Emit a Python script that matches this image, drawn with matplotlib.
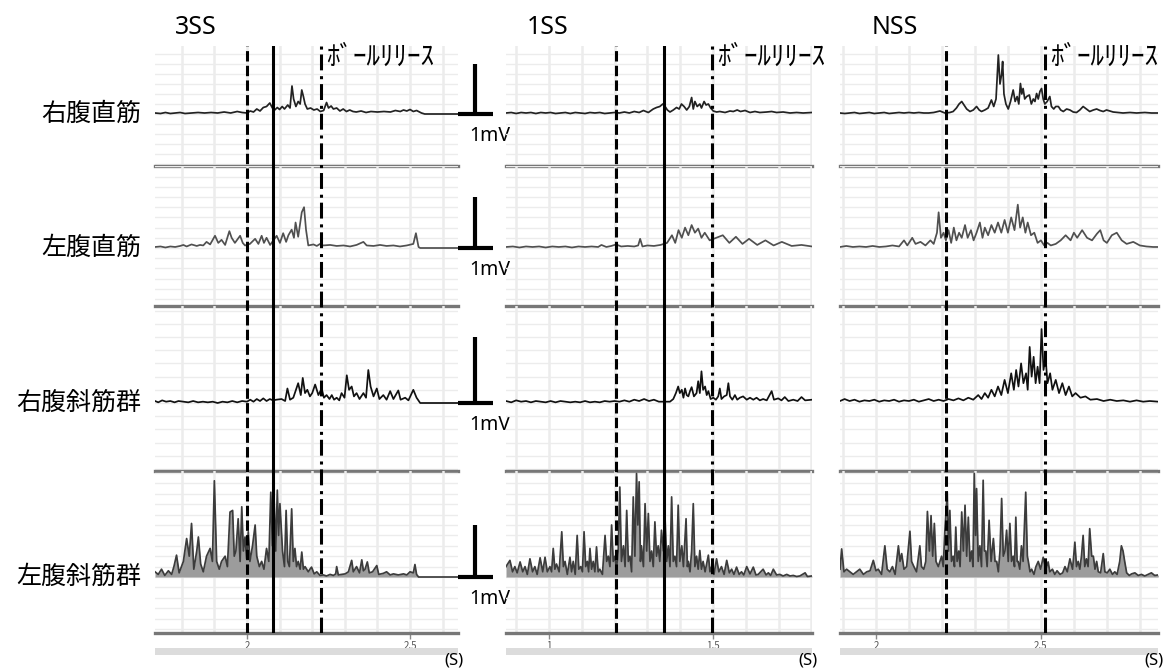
import numpy as np
import matplotlib
matplotlib.use('Agg')
import matplotlib.pyplot as plt
from matplotlib.ticker import MultipleLocator, FuncFormatter
from matplotlib.transforms import blended_transform_factory
from matplotlib.patches import Rectangle

plt.rcParams['font.family'] = ['Noto Sans CJK JP', 'DejaVu Sans']

W, H = 1166, 671

conditions = ['3SS', '1SS', 'NSS']
muscles = ['右腹直筋', '左腹直筋', '右腹斜筋群', '左腹斜筋群']
release_label = 'ﾎﾞｰﾙﾘﾘｰｽ'
scale_label = '1mV'

# visible time window of each condition (s)
xlims = [(1.718, 2.647), (0.869, 1.802), (1.891, 2.855)]
# event markers (s): dashed onset, solid line, dash-dot ball release
onset_t = [2.000, 1.204, 2.212]
solid_t = [2.080, 1.351, None]
release_t = [2.227, 1.497, 2.512]

# ---- rectified EMG traces, (time s, amplitude mV) ----
ss3_rra = [(1.718, 0.02), (1.735, 0.01), (1.75, 0.03), (1.765, 0.01), (1.78, 0.02), (1.795, 0.03),
           (1.81, 0.01), (1.83, 0.02), (1.85, 0.03), (1.87, 0.02), (1.89, 0.03), (1.91, 0.02),
           (1.93, 0.04), (1.95, 0.02), (1.97, 0.05), (1.985, 0.03), (2.0, 0.02), (2.01, 0.06),
           (2.02, 0.04), (2.03, 0.1), (2.04, 0.06), (2.05, 0.13), (2.06, 0.15), (2.07, 0.22),
           (2.078, 0.12), (2.085, 0.08), (2.093, 0.13), (2.10, 0.09), (2.108, 0.15), (2.115, 0.1),
           (2.125, 0.18), (2.132, 0.12), (2.138, 0.56), (2.143, 0.3), (2.15, 0.15), (2.157, 0.25),
           (2.163, 0.2), (2.168, 0.48), (2.173, 0.35), (2.178, 0.2), (2.185, 0.1), (2.195, 0.12),
           (2.205, 0.08), (2.215, 0.1), (2.225, 0.05), (2.235, 0.07), (2.244, 0.23), (2.25, 0.12),
           (2.258, 0.16), (2.265, 0.1), (2.275, 0.12), (2.285, 0.06), (2.295, 0.1), (2.305, 0.05),
           (2.315, 0.08), (2.325, 0.05), (2.335, 0.04), (2.35, 0.06), (2.365, 0.03), (2.38, 0.05),
           (2.40, 0.04), (2.42, 0.05), (2.44, 0.04), (2.455, 0.07), (2.47, 0.05), (2.48, 0.08),
           (2.49, 0.06), (2.50, 0.09), (2.51, 0.05), (2.52, 0.07), (2.535, 0.02), (2.545, 0.0),
           (2.648, 0.0)]
ss3_lra = [(1.718, 0.02), (1.735, 0.03), (1.75, 0.01), (1.765, 0.03), (1.78, 0.02), (1.795, 0.04),
           (1.805, 0.06), (1.815, 0.03), (1.83, 0.07), (1.846, 0.04), (1.856, 0.06), (1.866, 0.05),
           (1.876, 0.12), (1.887, 0.07), (1.902, 0.24), (1.912, 0.1), (1.922, 0.16), (1.933, 0.06),
           (1.946, 0.33), (1.953, 0.2), (1.963, 0.1), (1.979, 0.24), (1.987, 0.1), (1.994, 0.05),
           (2.009, 0.08), (2.025, 0.18), (2.035, 0.08), (2.045, 0.24), (2.052, 0.1), (2.06, 0.2),
           (2.071, 0.06), (2.091, 0.24), (2.101, 0.1), (2.111, 0.29), (2.12, 0.12), (2.127, 0.25),
           (2.137, 0.36), (2.144, 0.2), (2.149, 0.5), (2.157, 0.22), (2.168, 0.7), (2.175, 0.8),
           (2.181, 0.36), (2.188, 0.05), (2.204, 0.07), (2.214, 0.04), (2.224, 0.08), (2.234, 0.05),
           (2.255, 0.06), (2.275, 0.04), (2.296, 0.05), (2.316, 0.03), (2.336, 0.06), (2.357, 0.12),
           (2.367, 0.05), (2.388, 0.04), (2.408, 0.06), (2.428, 0.04), (2.449, 0.05), (2.469, 0.03),
           (2.49, 0.05), (2.51, 0.08), (2.518, 0.29), (2.526, 0.02), (2.531, 0.0), (2.648, 0.0)]
ss3_rob = [(1.718, 0.03), (1.728, 0.01), (1.74, 0.04), (1.752, 0.02), (1.765, 0.03), (1.778, 0.01),
           (1.79, 0.03), (1.805, 0.02), (1.82, 0.01), (1.835, 0.03), (1.85, 0.01), (1.865, 0.02),
           (1.88, 0.01), (1.895, 0.02), (1.91, 0.0), (1.925, 0.02), (1.94, 0.01), (1.955, 0.03),
           (1.97, 0.01), (1.985, 0.03), (2.0, 0.02), (2.01, 0.05), (2.02, 0.02), (2.03, 0.06),
           (2.04, 0.03), (2.05, 0.07), (2.06, 0.03), (2.07, 0.06), (2.08, 0.04), (2.09, 0.05),
           (2.106, 0.06), (2.117, 0.03), (2.124, 0.22), (2.132, 0.05), (2.142, 0.08), (2.157, 0.3),
           (2.165, 0.12), (2.171, 0.38), (2.178, 0.15), (2.185, 0.2), (2.193, 0.1), (2.2, 0.15),
           (2.209, 0.28), (2.219, 0.12), (2.229, 0.22), (2.236, 0.08), (2.244, 0.12), (2.253, 0.06),
           (2.26, 0.12), (2.267, 0.05), (2.275, 0.08), (2.283, 0.04), (2.29, 0.15), (2.299, 0.08),
           (2.306, 0.42), (2.313, 0.2), (2.321, 0.25), (2.328, 0.1), (2.336, 0.15), (2.345, 0.06),
           (2.357, 0.15), (2.365, 0.08), (2.372, 0.5), (2.379, 0.25), (2.388, 0.1), (2.398, 0.22),
           (2.406, 0.06), (2.418, 0.12), (2.428, 0.05), (2.439, 0.18), (2.449, 0.06), (2.464, 0.19),
           (2.471, 0.05), (2.485, 0.08), (2.495, 0.04), (2.51, 0.2), (2.52, 0.08), (2.531, 0.0),
           (2.648, 0.0)]
ss3_lob = [(1.718, 0.1), (1.728, 0.05), (1.738, 0.15), (1.748, 0.03), (1.759, 0.12), (1.769, 0.05),
           (1.776, 0.2), (1.784, 0.42), (1.792, 0.08), (1.805, 0.3), (1.815, 0.74), (1.823, 0.4),
           (1.83, 1.03), (1.837, 0.15), (1.846, 0.5), (1.851, 0.77), (1.858, 0.25), (1.866, 0.1),
           (1.876, 0.4), (1.887, 0.55), (1.894, 0.3), (1.9, 1.85), (1.907, 0.3), (1.915, 0.15),
           (1.922, 0.3), (1.933, 0.4), (1.94, 0.2), (1.948, 1.25), (1.956, 1.28), (1.961, 0.4),
           (1.966, 0.5), (1.973, 1.12), (1.979, 0.3), (1.984, 1.35), (1.989, 0.5), (1.994, 0.77),
           (1.999, 0.35), (2.004, 0.87), (2.009, 0.3), (2.017, 0.6), (2.025, 1.0), (2.03, 0.4),
           (2.038, 0.2), (2.045, 0.3), (2.052, 0.15), (2.06, 0.55), (2.067, 0.3), (2.073, 1.63),
           (2.078, 0.6), (2.083, 1.54), (2.088, 0.5), (2.093, 1.67), (2.097, 0.8), (2.101, 1.41),
           (2.109, 0.5), (2.115, 0.2), (2.12, 1.28), (2.125, 0.3), (2.13, 0.2), (2.137, 1.31),
           (2.142, 0.3), (2.147, 0.55), (2.152, 0.2), (2.157, 0.3), (2.163, 0.15), (2.168, 0.48),
           (2.173, 0.15), (2.178, 0.2), (2.188, 0.1), (2.193, 0.15), (2.198, 0.19), (2.206, 0.06),
           (2.214, 0.1), (2.224, 0.03), (2.234, 0.04), (2.244, 0.02), (2.255, 0.05), (2.265, 0.03),
           (2.272, 0.06), (2.275, 0.2), (2.28, 0.04), (2.29, 0.05), (2.301, 0.06), (2.311, 0.1),
           (2.321, 0.32), (2.326, 0.1), (2.336, 0.2), (2.345, 0.08), (2.352, 0.33), (2.357, 0.12),
           (2.362, 0.15), (2.369, 0.29), (2.375, 0.08), (2.385, 0.1), (2.398, 0.22), (2.404, 0.05),
           (2.418, 0.07), (2.428, 0.1), (2.439, 0.04), (2.449, 0.06), (2.464, 0.04), (2.48, 0.06),
           (2.49, 0.04), (2.5, 0.1), (2.51, 0.08), (2.515, 0.24), (2.52, 0.05), (2.526, 0.0),
           (2.648, 0.0)]

ss1_rra = [(0.869, 0.02), (0.885, 0.03), (0.90, 0.01), (0.915, 0.03), (0.93, 0.02), (0.945, 0.03),
           (0.96, 0.01), (0.975, 0.03), (0.99, 0.02), (1.005, 0.03), (1.02, 0.01), (1.035, 0.02),
           (1.05, 0.03), (1.065, 0.01), (1.08, 0.03), (1.095, 0.02), (1.11, 0.01), (1.125, 0.03),
           (1.14, 0.02), (1.155, 0.03), (1.17, 0.01), (1.185, 0.02), (1.2, 0.03), (1.215, 0.02),
           (1.23, 0.04), (1.245, 0.02), (1.26, 0.05), (1.275, 0.03), (1.288, 0.07), (1.303, 0.03),
           (1.318, 0.1), (1.328, 0.13), (1.338, 0.15), (1.347, 0.2), (1.354, 0.15), (1.361, 0.08),
           (1.369, 0.04), (1.379, 0.08), (1.389, 0.13), (1.397, 0.1), (1.404, 0.2), (1.412, 0.15),
           (1.42, 0.08), (1.428, 0.15), (1.435, 0.33), (1.44, 0.1), (1.445, 0.25), (1.452, 0.15),
           (1.46, 0.2), (1.465, 0.12), (1.473, 0.25), (1.479, 0.18), (1.486, 0.2), (1.493, 0.12),
           (1.501, 0.06), (1.511, 0.04), (1.521, 0.05), (1.537, 0.03), (1.552, 0.06), (1.562, 0.05),
           (1.574, 0.08), (1.584, 0.05), (1.598, 0.07), (1.613, 0.03), (1.628, 0.05), (1.643, 0.03),
           (1.664, 0.04), (1.679, 0.05), (1.694, 0.03), (1.714, 0.04), (1.735, 0.02), (1.755, 0.03),
           (1.775, 0.02), (1.802, 0.03)]
ss1_lra = [(0.869, 0.02), (0.89, 0.03), (0.91, 0.01), (0.93, 0.03), (0.95, 0.02), (0.97, 0.03),
           (0.99, 0.01), (1.01, 0.03), (1.03, 0.02), (1.05, 0.03), (1.07, 0.01), (1.09, 0.03),
           (1.11, 0.02), (1.13, 0.03), (1.15, 0.02), (1.16, 0.06), (1.175, 0.02), (1.19, 0.04),
           (1.205, 0.07), (1.22, 0.03), (1.24, 0.04), (1.26, 0.03), (1.272, 0.05), (1.278, 0.18),
           (1.285, 0.03), (1.3, 0.05), (1.32, 0.04), (1.34, 0.06), (1.36, 0.1), (1.375, 0.25),
           (1.385, 0.1), (1.395, 0.35), (1.405, 0.2), (1.415, 0.4), (1.425, 0.25), (1.435, 0.45),
           (1.445, 0.3), (1.455, 0.38), (1.465, 0.2), (1.475, 0.3), (1.49, 0.15), (1.51, 0.2),
           (1.53, 0.25), (1.55, 0.1), (1.57, 0.22), (1.59, 0.08), (1.61, 0.18), (1.635, 0.06),
           (1.66, 0.15), (1.685, 0.05), (1.71, 0.12), (1.74, 0.04), (1.77, 0.06), (1.802, 0.03)]
ss1_rob = [(0.869, 0.03), (0.885, 0.01), (0.9, 0.04), (0.915, 0.02), (0.93, 0.03), (0.945, 0.01),
           (0.96, 0.03), (0.975, 0.02), (0.99, 0.01), (1.005, 0.03), (1.02, 0.01), (1.035, 0.03),
           (1.05, 0.02), (1.065, 0.01), (1.08, 0.02), (1.095, 0.01), (1.11, 0.03), (1.125, 0.01),
           (1.14, 0.02), (1.155, 0.01), (1.17, 0.03), (1.185, 0.02), (1.2, 0.03), (1.215, 0.02),
           (1.23, 0.04), (1.245, 0.02), (1.26, 0.05), (1.275, 0.03), (1.29, 0.06), (1.305, 0.03),
           (1.32, 0.05), (1.335, 0.02), (1.35, 0.02), (1.369, 0.02), (1.379, 0.06), (1.387, 0.15),
           (1.394, 0.25), (1.399, 0.15), (1.405, 0.2), (1.41, 0.08), (1.415, 0.22), (1.42, 0.12),
           (1.425, 0.1), (1.43, 0.18), (1.435, 0.24), (1.442, 0.1), (1.45, 0.15), (1.455, 0.33),
           (1.46, 0.15), (1.465, 0.48), (1.47, 0.2), (1.476, 0.25), (1.481, 0.12), (1.486, 0.18),
           (1.493, 0.06), (1.501, 0.08), (1.509, 0.05), (1.516, 0.1), (1.521, 0.22), (1.526, 0.06),
           (1.534, 0.1), (1.542, 0.12), (1.547, 0.3), (1.552, 0.1), (1.559, 0.05), (1.567, 0.12),
           (1.574, 0.05), (1.582, 0.08), (1.592, 0.1), (1.603, 0.05), (1.613, 0.08), (1.623, 0.05),
           (1.633, 0.08), (1.643, 0.04), (1.653, 0.06), (1.664, 0.04), (1.679, 0.18), (1.686, 0.05),
           (1.699, 0.07), (1.709, 0.04), (1.719, 0.09), (1.73, 0.03), (1.745, 0.05), (1.758, 0.03),
           (1.77, 0.09), (1.781, 0.04), (1.802, 0.05)]
ss1_lob = [(0.869, 0.2), (0.881, 0.32), (0.889, 0.1), (0.896, 0.2), (0.903, 0.08), (0.912, 0.29),
           (0.92, 0.1), (0.927, 0.2), (0.934, 0.05), (0.942, 0.35), (0.95, 0.1), (0.957, 0.2),
           (0.964, 0.05), (0.973, 0.37), (0.981, 0.1), (0.988, 0.38), (0.995, 0.1), (1.003, 0.2),
           (1.008, 0.1), (1.013, 0.55), (1.018, 0.15), (1.023, 0.25), (1.031, 0.1), (1.039, 0.87),
           (1.044, 0.2), (1.049, 0.3), (1.056, 0.05), (1.064, 0.38), (1.069, 0.1), (1.074, 0.3),
           (1.08, 0.05), (1.086, 0.8), (1.091, 0.15), (1.097, 0.2), (1.102, 0.1), (1.107, 0.87),
           (1.112, 0.2), (1.117, 0.3), (1.121, 0.1), (1.125, 0.55), (1.13, 0.15), (1.135, 0.3),
           (1.14, 0.1), (1.145, 0.58), (1.15, 0.1), (1.155, 0.15), (1.163, 0.05), (1.171, 0.8),
           (1.176, 0.3), (1.181, 0.4), (1.186, 0.2), (1.191, 1.0), (1.196, 0.3), (1.201, 0.4),
           (1.206, 0.15), (1.211, 0.5), (1.216, 1.73), (1.221, 0.3), (1.227, 0.6), (1.232, 0.2),
           (1.237, 1.28), (1.242, 0.3), (1.247, 0.4), (1.252, 0.1), (1.257, 1.54), (1.262, 0.4),
           (1.267, 1.99), (1.271, 1.0), (1.275, 1.83), (1.279, 0.3), (1.282, 0.6), (1.288, 0.2),
           (1.293, 1.41), (1.298, 0.5), (1.303, 1.22), (1.308, 0.3), (1.313, 0.5), (1.318, 0.2),
           (1.323, 1.06), (1.328, 0.4), (1.333, 0.6), (1.338, 0.3), (1.343, 0.9), (1.349, 0.5),
           (1.354, 1.12), (1.359, 0.3), (1.364, 0.6), (1.369, 0.2), (1.374, 1.54), (1.379, 0.3),
           (1.384, 0.4), (1.389, 0.2), (1.394, 1.38), (1.399, 0.3), (1.405, 0.6), (1.41, 0.2),
           (1.418, 1.12), (1.422, 0.2), (1.425, 0.3), (1.43, 0.1), (1.435, 0.5), (1.44, 1.41),
           (1.445, 0.2), (1.45, 0.4), (1.455, 0.15), (1.46, 0.51), (1.465, 0.15), (1.47, 0.3),
           (1.476, 0.1), (1.486, 0.42), (1.491, 0.1), (1.496, 0.2), (1.503, 0.05), (1.511, 0.35),
           (1.518, 0.1), (1.526, 0.2), (1.534, 0.05), (1.542, 0.32), (1.55, 0.08), (1.557, 0.15),
           (1.564, 0.05), (1.572, 0.19), (1.58, 0.05), (1.587, 0.1), (1.594, 0.04), (1.603, 0.2),
           (1.613, 0.06), (1.623, 0.19), (1.631, 0.04), (1.638, 0.05), (1.653, 0.15), (1.662, 0.04),
           (1.669, 0.08), (1.676, 0.03), (1.684, 0.15), (1.694, 0.04), (1.704, 0.05), (1.714, 0.02),
           (1.725, 0.05), (1.735, 0.02), (1.745, 0.03), (1.755, 0.01), (1.765, 0.02), (1.781, 0.08),
           (1.788, 0.01), (1.802, 0.02)]

nss_rra = [(1.891, 0.02), (1.905, 0.01), (1.92, 0.02), (1.935, 0.03), (1.95, 0.01), (1.965, 0.02),
           (1.98, 0.03), (1.995, 0.01), (2.01, 0.02), (2.025, 0.03), (2.04, 0.01), (2.055, 0.02),
           (2.07, 0.03), (2.085, 0.02), (2.1, 0.03), (2.115, 0.02), (2.13, 0.03), (2.145, 0.02),
           (2.16, 0.02), (2.175, 0.03), (2.194, 0.06), (2.209, 0.02), (2.224, 0.03), (2.234, 0.05),
           (2.244, 0.12), (2.252, 0.2), (2.26, 0.25), (2.267, 0.18), (2.275, 0.1), (2.285, 0.05),
           (2.295, 0.08), (2.305, 0.15), (2.313, 0.08), (2.32, 0.05), (2.33, 0.08), (2.34, 0.12),
           (2.35, 0.28), (2.357, 0.15), (2.364, 0.3), (2.371, 1.18), (2.376, 0.6), (2.381, 0.8),
           (2.384, 1.05), (2.388, 0.4), (2.394, 0.2), (2.401, 0.1), (2.408, 0.25), (2.416, 0.48),
           (2.422, 0.25), (2.428, 0.35), (2.433, 0.2), (2.438, 0.61), (2.442, 0.4), (2.446, 0.51),
           (2.451, 0.3), (2.457, 0.35), (2.465, 0.38), (2.471, 0.2), (2.477, 0.3), (2.482, 0.25),
           (2.487, 0.41), (2.492, 0.3), (2.497, 0.45), (2.502, 0.51), (2.507, 0.3), (2.512, 0.2),
           (2.519, 0.25), (2.527, 0.35), (2.532, 0.15), (2.539, 0.1), (2.545, 0.15), (2.553, 0.15),
           (2.56, 0.08), (2.568, 0.05), (2.578, 0.1), (2.588, 0.08), (2.598, 0.04), (2.608, 0.03),
           (2.618, 0.08), (2.628, 0.15), (2.638, 0.1), (2.648, 0.05), (2.659, 0.08), (2.669, 0.1),
           (2.679, 0.07), (2.689, 0.05), (2.699, 0.08), (2.709, 0.06), (2.719, 0.04), (2.734, 0.03),
           (2.749, 0.02), (2.77, 0.03), (2.79, 0.02), (2.815, 0.03), (2.835, 0.02), (2.856, 0.02)]
nss_lra = [(1.891, 0.02), (1.91, 0.04), (1.93, 0.02), (1.95, 0.03), (1.97, 0.02), (1.99, 0.04),
           (2.01, 0.02), (2.03, 0.03), (2.05, 0.05), (2.07, 0.03), (2.085, 0.15), (2.095, 0.05),
           (2.11, 0.2), (2.12, 0.08), (2.135, 0.12), (2.15, 0.05), (2.165, 0.15), (2.175, 0.08),
           (2.185, 0.3), (2.19, 0.7), (2.197, 0.2), (2.205, 0.3), (2.212, 0.15), (2.22, 0.35),
           (2.228, 0.1), (2.236, 0.4), (2.244, 0.15), (2.252, 0.3), (2.26, 0.2), (2.27, 0.45),
           (2.278, 0.2), (2.288, 0.35), (2.296, 0.15), (2.305, 0.3), (2.315, 0.5), (2.323, 0.2),
           (2.33, 0.4), (2.34, 0.25), (2.35, 0.45), (2.36, 0.3), (2.37, 0.5), (2.38, 0.3),
           (2.39, 0.55), (2.4, 0.3), (2.41, 0.6), (2.42, 0.35), (2.43, 0.85), (2.437, 0.4),
           (2.445, 0.6), (2.453, 0.3), (2.46, 0.5), (2.47, 0.25), (2.48, 0.3), (2.49, 0.1),
           (2.5, 0.15), (2.51, 0.05), (2.52, 0.1), (2.53, 0.05), (2.545, 0.08), (2.56, 0.15),
           (2.575, 0.25), (2.59, 0.15), (2.6, 0.3), (2.61, 0.2), (2.625, 0.35), (2.64, 0.2),
           (2.655, 0.15), (2.67, 0.28), (2.68, 0.35), (2.69, 0.15), (2.7, 0.1), (2.715, 0.25),
           (2.73, 0.3), (2.745, 0.15), (2.76, 0.08), (2.78, 0.12), (2.8, 0.05), (2.82, 0.03),
           (2.84, 0.02), (2.856, 0.02)]
nss_rob = [(1.891, 0.03), (1.905, 0.06), (1.92, 0.03), (1.935, 0.05), (1.95, 0.02), (1.965, 0.04),
           (1.98, 0.03), (1.995, 0.05), (2.01, 0.02), (2.025, 0.04), (2.04, 0.03), (2.055, 0.05),
           (2.07, 0.02), (2.085, 0.04), (2.1, 0.03), (2.115, 0.05), (2.13, 0.02), (2.145, 0.04),
           (2.16, 0.06), (2.175, 0.03), (2.19, 0.05), (2.205, 0.03), (2.22, 0.06), (2.235, 0.04),
           (2.25, 0.07), (2.265, 0.04), (2.28, 0.08), (2.295, 0.05), (2.31, 0.12), (2.32, 0.06),
           (2.33, 0.15), (2.34, 0.08), (2.35, 0.2), (2.36, 0.1), (2.37, 0.25), (2.38, 0.12),
           (2.39, 0.35), (2.4, 0.15), (2.41, 0.45), (2.418, 0.2), (2.425, 0.5), (2.432, 0.25),
           (2.44, 0.6), (2.447, 0.3), (2.455, 0.45), (2.46, 0.2), (2.466, 0.85), (2.472, 0.4),
           (2.478, 0.7), (2.484, 0.3), (2.49, 0.55), (2.496, 0.3), (2.502, 1.12), (2.508, 0.5),
           (2.514, 0.7), (2.52, 0.3), (2.528, 0.45), (2.535, 0.2), (2.545, 0.35), (2.555, 0.15),
           (2.565, 0.3), (2.575, 0.12), (2.585, 0.25), (2.595, 0.1), (2.605, 0.15), (2.62, 0.08),
           (2.635, 0.1), (2.65, 0.05), (2.67, 0.06), (2.69, 0.03), (2.71, 0.05), (2.73, 0.03),
           (2.75, 0.04), (2.77, 0.02), (2.79, 0.04), (2.81, 0.02), (2.83, 0.03), (2.856, 0.02)]
nss_lob = [(1.891, 0.15), (1.896, 0.54), (1.903, 0.1), (1.911, 0.15), (1.921, 0.1), (1.931, 0.05),
           (1.941, 0.1), (1.951, 0.15), (1.962, 0.05), (1.972, 0.1), (1.982, 0.12), (1.992, 0.32),
           (2.0, 0.12), (2.007, 0.15), (2.017, 0.05), (2.027, 0.6), (2.034, 0.15), (2.042, 0.1),
           (2.05, 0.2), (2.058, 0.05), (2.068, 0.6), (2.073, 0.3), (2.078, 0.45), (2.085, 0.15),
           (2.093, 0.2), (2.103, 0.88), (2.108, 0.3), (2.115, 0.2), (2.123, 0.1), (2.133, 0.6),
           (2.138, 0.2), (2.145, 0.15), (2.151, 0.3), (2.156, 1.26), (2.162, 0.5), (2.167, 1.18),
           (2.172, 0.4), (2.177, 1.03), (2.182, 0.3), (2.189, 0.2), (2.199, 0.4), (2.204, 0.2),
           (2.209, 0.9), (2.216, 1.63), (2.22, 0.5), (2.224, 1.28), (2.229, 0.3), (2.234, 0.4),
           (2.238, 0.2), (2.242, 0.96), (2.246, 0.3), (2.251, 0.5), (2.255, 0.2), (2.26, 1.25),
           (2.265, 0.5), (2.27, 1.38), (2.275, 0.4), (2.28, 1.15), (2.285, 0.3), (2.29, 0.5),
           (2.294, 0.2), (2.298, 1.99), (2.302, 0.8), (2.305, 1.7), (2.31, 0.3), (2.315, 0.6),
           (2.32, 0.2), (2.325, 1.86), (2.329, 0.5), (2.333, 0.5), (2.337, 0.2), (2.343, 1.09),
           (2.349, 0.3), (2.356, 0.74), (2.361, 0.3), (2.366, 0.3), (2.371, 0.1), (2.376, 0.5),
           (2.381, 1.51), (2.386, 0.4), (2.391, 0.5), (2.396, 0.9), (2.401, 0.3), (2.406, 1.03),
           (2.411, 0.3), (2.416, 0.4), (2.42, 0.2), (2.424, 1.15), (2.428, 0.3), (2.431, 0.3),
           (2.436, 0.15), (2.441, 0.6), (2.446, 0.3), (2.454, 1.63), (2.459, 0.4), (2.462, 0.3),
           (2.467, 0.1), (2.472, 0.15), (2.479, 0.05), (2.485, 0.2), (2.492, 0.3), (2.499, 0.15),
           (2.507, 0.38), (2.515, 0.15), (2.522, 0.29), (2.527, 0.1), (2.535, 0.15), (2.542, 0.05),
           (2.549, 0.12), (2.558, 0.05), (2.566, 0.08), (2.573, 0.2), (2.58, 0.1), (2.588, 0.35),
           (2.596, 0.15), (2.603, 0.67), (2.608, 0.2), (2.613, 0.3), (2.618, 0.15), (2.623, 0.4),
           (2.628, 0.8), (2.633, 0.2), (2.638, 0.35), (2.643, 0.2), (2.648, 0.93), (2.654, 0.4),
           (2.659, 0.4), (2.664, 0.15), (2.669, 0.3), (2.674, 0.1), (2.681, 0.08), (2.689, 0.45),
           (2.694, 0.1), (2.701, 0.08), (2.709, 0.15), (2.717, 0.05), (2.724, 0.1), (2.731, 0.05),
           (2.739, 0.3), (2.744, 0.6), (2.749, 0.5), (2.754, 0.3), (2.76, 0.08), (2.768, 0.03),
           (2.775, 0.06), (2.785, 0.08), (2.795, 0.03), (2.805, 0.05), (2.815, 0.02), (2.825, 0.05),
           (2.835, 0.08), (2.845, 0.03), (2.856, 0.04)]

traces = [[ss3_rra, ss3_lra, ss3_rob, ss3_lob],
          [ss1_rra, ss1_lra, ss1_rob, ss1_lob],
          [nss_rra, nss_lra, nss_rob, nss_lob]]

# ---- layout (pixels of the 1166x671 canvas) ----
panel_x = [(155, 458), (506, 812), (840, 1158)]
row_y = [(46, 166), (166, 306), (306, 471), (471, 633)]
baseline_y = [114, 248, 403, 577]
px_per_mv = [50, 51, 66, 52]
title_x = [175, 527, 872]
line_cols = ['#222222', '#505050', '#111111', '#3c3c3c']
fill_cols = [None, None, None, '#9c9c9c']
grid_col = '#ececec'
sep_col = '#777777'


def fig_rect(x0, x1, y0, y1):
    return [x0 / W, 1 - y1 / H, (x1 - x0) / W, (y1 - y0) / H]


fig = plt.figure(figsize=(W / 100, H / 100), dpi=100)
fig.patch.set_facecolor('white')

for p in range(3):
    x0, x1 = panel_x[p]
    for r in range(4):
        y0, y1 = row_y[r]
        g = px_per_mv[r]
        b = baseline_y[r]
        ax = fig.add_axes(fig_rect(x0, x1, y0, y1))
        ax.set_facecolor('none')
        ax.set_xlim(*xlims[p])
        ax.set_ylim(-(y1 - b) / g, (b - y0) / g)
        ax.set_axisbelow(True)
        ax.xaxis.set_major_locator(MultipleLocator(0.5))
        ax.xaxis.set_minor_locator(MultipleLocator(0.1))
        ax.yaxis.set_major_locator(MultipleLocator(0.2))
        ax.grid(axis='x', which='both', color=grid_col, lw=1.8)
        ax.grid(axis='y', which='major', color=grid_col, lw=1.0)
        for s in ['top', 'left', 'right']:
            ax.spines[s].set_visible(False)
        ax.spines['bottom'].set_color(sep_col)
        ax.spines['bottom'].set_linewidth(2.4)
        ax.spines['bottom'].set_zorder(5)
        ax.tick_params(axis='y', length=0, labelleft=False)
        ax.tick_params(axis='x', which='minor', length=0)
        if r == 3:
            ax.tick_params(axis='x', which='major', length=4, width=1, color='#8a8a8a',
                           labelsize=7, labelcolor='#555555', pad=2)
            ax.xaxis.set_major_formatter(FuncFormatter(lambda v, pos: '%g' % v))
            # scrollbar strip under the time axis
            ax.add_patch(Rectangle((0, -0.136), 1, 0.043, transform=ax.transAxes,
                                   facecolor='#dcdcdc', edgecolor='none', clip_on=False))
            ax.annotate('(S)', xy=(1, 0), xycoords='axes fraction', xytext=(-3, -20),
                        textcoords='offset points', ha='center', va='center',
                        fontsize=12, family=['Noto Sans', 'DejaVu Sans'])
        else:
            ax.tick_params(axis='x', which='major', length=0, labelbottom=False)

        pts = np.array(traces[p][r])
        t, mv = pts[:, 0], pts[:, 1]
        if fill_cols[r]:
            ax.fill_between(t, 0, mv, color=fill_cols[r], lw=0, zorder=2)
        ax.plot(t, mv, color=line_cols[r], lw=1.25, zorder=3)

        if p == 0:
            tr = blended_transform_factory(ax.transAxes, ax.transData)
            ax.text(-0.046, 0, muscles[r], transform=tr, ha='right', va='center', fontsize=18)
            # 1 mV calibration bar
            ax.plot([1.056, 1.056], [0, 1], transform=tr, color='black', lw=3,
                    solid_capstyle='butt', clip_on=False)
            ax.plot([1.0, 1.115], [0, 0], transform=tr, color='black', lw=3,
                    solid_capstyle='butt', clip_on=False)
            ax.annotate(scale_label, xy=(1.036, 0), xycoords=tr, xytext=(0, -16),
                        textcoords='offset points', ha='left', va='center',
                        fontsize=14, family=['Noto Sans', 'DejaVu Sans'], zorder=10)

    # event lines across all four rows
    ov = fig.add_axes(fig_rect(x0, x1, 46, 633))
    ov.set_xlim(*xlims[p])
    ov.set_ylim(0, 1)
    ov.axis('off')
    ov.patch.set_alpha(0)
    ov.axvline(onset_t[p], color='black', lw=2.2, ls=(0, (3.4, 1.4)))
    if solid_t[p] is not None:
        ov.axvline(solid_t[p], color='black', lw=2.2)
    ov.axvline(release_t[p], color='black', lw=2.2, ls=(0, (5.2, 1.6, 1.0, 1.9)))
    ov.annotate(release_label, xy=(release_t[p], 1), xycoords=('data', 'axes fraction'),
                xytext=(4, -8), textcoords='offset points', ha='left', va='center',
                fontsize=19.5)

    fig.text(title_x[p] / W, 1 - 28 / H, conditions[p], ha='left', va='center',
             fontsize=18, family=['Noto Sans', 'DejaVu Sans'])

fig.savefig('out.png', dpi=100, facecolor='white')
